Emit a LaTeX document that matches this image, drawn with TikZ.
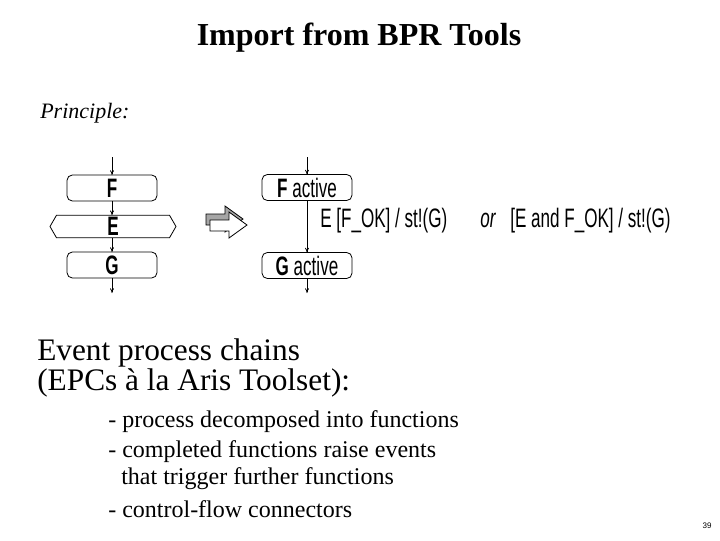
\documentclass[tikz,border=0pt]{standalone}
\usepackage{fontspec}
\setmainfont{Liberation Serif}
\newfontfamily\dsf{Liberation Sans}
\usetikzlibrary{shapes.symbols,arrows.meta}
\tikzset{
  dfont/.style={font=\dsf\fontsize{20}{20}\selectfont},
  fbox/.style={draw, line width=0.6pt, rounded corners=4pt, minimum width=67.5pt,
    minimum height=19.5pt, inner sep=0pt, outer sep=0pt, dfont},
  evbox/.style={draw, line width=0.6pt, signal, signal to=west and east, signal pointer angle=120,
    minimum width=94.5pt, minimum height=17pt, inner sep=0pt, outer sep=0pt, dfont},
  flow/.style={-{To[length=3.5pt,width=3pt]}, line width=0.6pt},
  lbl/.style={dfont, inner sep=0pt, anchor=base west},
  bigtext/.style={font=\fontsize{23.5}{23.5}\selectfont, inner sep=0pt, anchor=base west},
  bultext/.style={font=\fontsize{18}{18}\selectfont, inner sep=0pt, anchor=base west},
}
\newcommand{\cond}[1]{\scalebox{0.64}[1]{#1}}
\begin{document}
\begin{tikzpicture}[x=0.75pt,y=-0.75pt]
\useasboundingbox (0,0) rectangle (720,540);

% title
\node[font=\bfseries\fontsize{24}{24}\selectfont, inner sep=0pt, anchor=base] (title) at (359,45) {Import from BPR Tools};
\node[font=\itshape\fontsize{16.5}{16.5}\selectfont, inner sep=0pt, anchor=base west] (princ) at (40,118) {Principle:};

% left EPC
\coordinate (lin) at (112,157);
\node[fbox] (F) at (112,188) {\cond{\textbf{F}}};
\node[evbox] (E) at (113,226.5) {\cond{\textbf{E}}};
\node[fbox] (G) at (112,265) {\cond{\textbf{G}}};
\coordinate (lout) at (112,293);
\draw[flow] (lin) -- (F.north);
\draw[flow] (F.south) -- (E.north -| F.south);
\draw[flow] (E.south -| F.south) -- (G.north);
\draw[flow] (G.south) -- (lout);

% block arrow
\begin{scope}[shift={(-4,-6)}]
  \fill[gray!70, draw=black, line width=0.6pt] (210,220) -- (229,220) -- (229,212) -- (247,225) -- (229,238) -- (229,231) -- (210,231) -- cycle;
\end{scope}
\fill[white, draw=black, line width=0.6pt] (210,220) -- (229,220) -- (229,212) -- (247,225) -- (229,238) -- (229,231) -- (210,231) -- cycle;

% right statechart
\coordinate (rin) at (307,157);
\node[fbox] (Fa) at (307,187.5) {\cond{\textbf{F} active}};
\node[fbox] (Ga) at (307,265.5) {\cond{\textbf{G} active}};
\coordinate (rout) at (307,293);
\draw[flow] (rin) -- (Fa.north);
\draw[flow] (Fa.south) -- (Ga.north);
\draw[flow] (Ga.south) -- (rout);

\node[lbl] (l1) at (320,227) {\cond{E [F\_OK] / st!(G)}};
\node[font=\dsf\itshape\fontsize{20}{20}\selectfont, inner sep=0pt, anchor=base west] (or) at (480,227) {\cond{or}};
\node[lbl] (l2) at (510,227) {\cond{[E and F\_OK] / st!(G)}};

% text
\node[bigtext] (t1) at (37,360) {Event process chains};
\node[bigtext] (t2) at (37,390) {(EPCs à la Aris Toolset):};
\node[bultext] (b1) at (108,427) {- process decomposed into functions};
\node[bultext] (b2) at (108,457) {- completed functions raise events};
\node[bultext] (b3) at (121,484) {that trigger further functions};
\node[bultext] (b4) at (108,517) {- control-flow connectors};

\node[font=\dsf\fontsize{6}{6}\selectfont, inner sep=0pt, anchor=base] (pg) at (707,528) {39};
\end{tikzpicture}
\end{document}
